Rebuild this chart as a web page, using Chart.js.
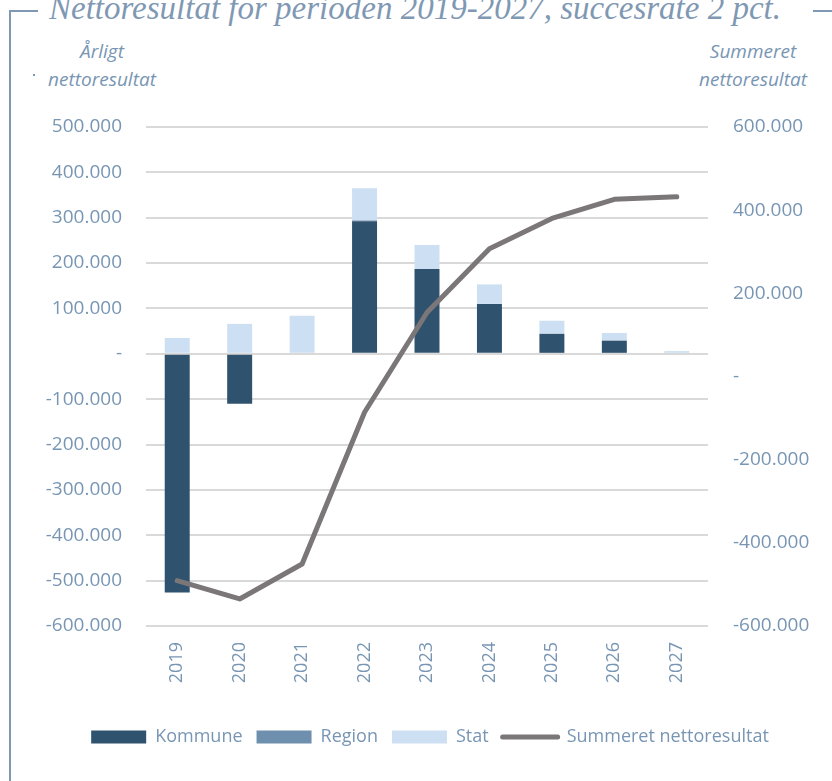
<!DOCTYPE html>
<html>
<head>
<meta charset="utf-8">
<script src="https://cdn.jsdelivr.net/npm/chart.js@4.4.1/dist/chart.umd.min.js"></script>
<style>
  html, body { margin: 0; padding: 0; background: #fff; }
  body { width: 832px; height: 781px; position: relative; overflow: hidden; }
  #wrap { position: absolute; left: 0; top: 0; width: 832px; height: 781px; }
  .title {
    position: absolute; left: 0; width: 830px; top: -8px; text-align: center;
    font: italic 33px/33px "Liberation Serif", serif; color: #7f98b3; white-space: nowrap;
  }
  .frame { position: absolute; background: #7f98b3; }
  .axt {
    position: absolute; font: italic 19px/28px "Open Sans", sans-serif; color: #7896b4;
    text-align: center; white-space: nowrap;
  }
</style>
</head>
<body>
<div class="frame" style="left:9px; top:10px; width:2px; height:771px;"></div>
<div class="frame" style="left:9px; top:10px; width:29px; height:2px;"></div>
<div class="frame" style="left:813px; top:10px; width:19px; height:2px;"></div>
<div class="title">Nettoresultat for perioden 2019-2027, succesrate 2 pct.</div>
<div class="axt" style="left:40px; width:124px; top:37px;">Årligt<br>nettoresultat</div>
<div class="frame" style="left:33px; top:74px; width:2px; height:2px;"></div>
<div class="axt" style="left:691px; width:124px; top:37px;">Summeret<br>nettoresultat</div>
<div id="wrap"><canvas id="chart" width="832" height="781"></canvas></div>
<script>
// ✅ Data
const years = ["2019", "2020", "2021", "2022", "2023", "2024", "2025", "2026", "2027"];
const kommune = [-526000, -110000, 0, 292000, 187000, 110000, 44000, 29000, 0];
const region = [0, 0, 0, 2000, 0, 0, 0, 0, 0];
const stat = [35000, 66000, 84000, 71000, 53000, 43000, 29000, 17000, 6000];
const summeret = [-491000, -535000, -451000, -86000, 154000, 307000, 380000, 426000, 432000];

const tickColor = "#7896b4";

// ✅ Danish number format, zero as a dash
function fmt(v) {
    if (v === 0) return "-";
    const s = Math.abs(v).toString().replace(/\B(?=(\d{3})+(?!\d))/g, ".");
    return (v < 0 ? "-" : "") + s;
}

const ctx = document.getElementById("chart").getContext("2d");
const chart = new Chart(ctx, {
    type: "bar",
    data: {
        labels: years,
        datasets: [
            { label: "Kommune", data: kommune, backgroundColor: "#2f526e", yAxisID: "y", stack: "s", order: 1 },
            { label: "Region", data: region, backgroundColor: "#6f8fae", yAxisID: "y", stack: "s", order: 1 },
            { label: "Stat", data: stat, backgroundColor: "#cddff2", yAxisID: "y", stack: "s", order: 1 },
            {
                type: "line",
                label: "Summeret nettoresultat",
                data: summeret,
                yAxisID: "y2",
                borderColor: "#7b7677",
                backgroundColor: "#7b7677",
                borderWidth: 5,
                borderCapStyle: "round",
                borderJoinStyle: "round",
                pointRadius: 0,
                pointHoverRadius: 0,
                tension: 0,
                order: 0
            }
        ]
    },
    options: {
        responsive: false,
        animation: false,
        layout: { padding: { top: 127, left: 28, right: 0, bottom: 25 } },
        datasets: {
            bar: { barPercentage: 0.4, categoryPercentage: 1.0 }
        },
        scales: {
            x: {
                stacked: true,
                grid: { display: false },
                border: { display: false },
                ticks: {
                    color: tickColor,
                    font: { family: "Open Sans", size: 18 },
                    minRotation: 90,
                    maxRotation: 90,
                    padding: 8
                },
                afterFit: (s) => { s.height = 88; }
            },
            y: {
                stacked: true,
                position: "left",
                min: -600000,
                max: 500000,
                grid: { color: "#d9d9d9", lineWidth: 2, drawTicks: false },
                border: { display: false },
                ticks: {
                    stepSize: 100000,
                    color: tickColor,
                    font: { family: "Open Sans", size: 19 },
                    padding: 24,
                    callback: (v) => fmt(v)
                },
                afterFit: (s) => { s.width = 118; }
            },
            y2: {
                position: "right",
                min: -600000,
                max: 600000,
                grid: { drawOnChartArea: false, drawTicks: false },
                border: { display: false },
                ticks: {
                    stepSize: 200000,
                    color: tickColor,
                    font: { family: "Open Sans", size: 19 },
                    padding: 25,
                    callback: (v) => fmt(v)
                },
                afterFit: (s) => { s.width = 124; }
            }
        },
        plugins: {
            title: { display: false },
            tooltip: { enabled: false },
            legend: {
                display: true,
                position: "bottom",
                labels: {
                    color: tickColor,
                    font: { family: "Open Sans", size: 18 },
                    usePointStyle: true,
                    pointStyleWidth: 55,
                    boxHeight: 13,
                    padding: 14,
                    generateLabels: (c) => c.data.datasets.map((ds, i) => ({
                        text: ds.label,
                        fillStyle: ds.type === "line" ? ds.borderColor : ds.backgroundColor,
                        strokeStyle: ds.type === "line" ? ds.borderColor : ds.backgroundColor,
                        lineWidth: ds.type === "line" ? 5 : 0,
                        lineCap: "round",
                        pointStyle: ds.type === "line" ? "line" : "rect",
                        fontColor: tickColor,
                        hidden: false,
                        datasetIndex: i
                    }))
                }
            }
        }
    }
});
</script>
</body>
</html>
